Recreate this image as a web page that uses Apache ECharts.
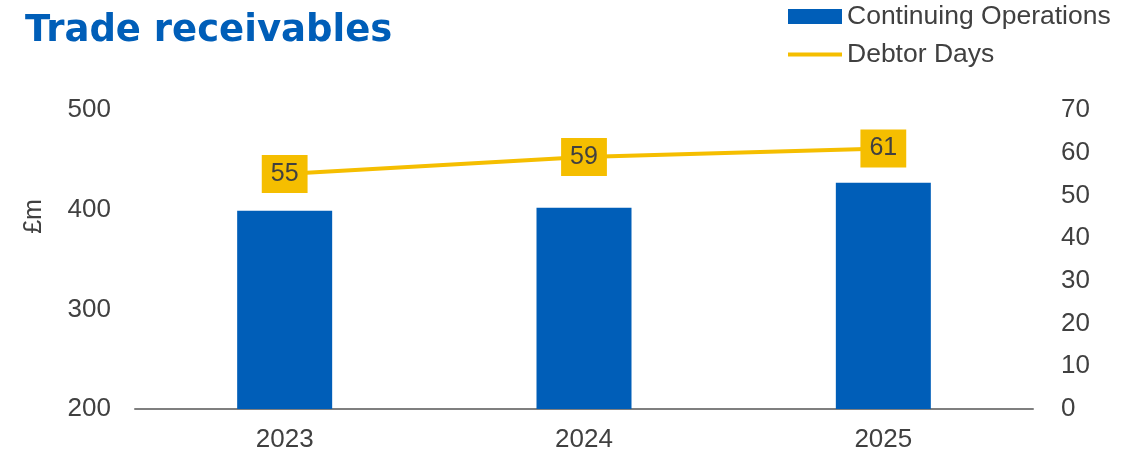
<!DOCTYPE html>
<html>
<head>
<meta charset="utf-8">
<script src="https://cdn.jsdelivr.net/npm/echarts@6/dist/echarts.min.js"></script>
<style>html,body{margin:0;padding:0;background:#fff}#c{width:1143px;height:458px}</style>
</head>
<body>
<div id="c"></div>
<script>
const categories = ['2023', '2024', '2025'];
const continuingOperations = [399, 402, 427];
const debtorDays = [55, 59, 61];
const leftTicks = [200, 300, 400, 500];
const rightTicks = [0, 10, 20, 30, 40, 50, 60, 70];

const FONT = '"Liberation Sans", Arial, sans-serif';
const TXT = '#404040';
const chart = echarts.init(document.getElementById('c'));
chart.setOption({
  animation: false,
  title: {
    text: 'Trade receivables', left: 20, top: 8,
    textStyle: { fontFamily: '"DejaVu Sans", sans-serif', fontWeight: 'bold', fontSize: 37, color: '#005EB8' }
  },
  legend: {
    orient: 'vertical', left: 786, top: 3, itemGap: 11, padding: 0,
    itemWidth: 54, itemHeight: 15,
    textStyle: { fontFamily: FONT, fontSize: 26.5, color: TXT },
    data: [
      { name: 'Continuing Operations', icon: 'rect' },
      { name: 'Debtor Days', lineStyle: { width: 4 } }
    ]
  },
  grid: { left: 135, right: 110, top: 110, bottom: 49 },
  xAxis: {
    type: 'category', data: categories,
    axisLine: { lineStyle: { color: '#7f7f7f', width: 2 } },
    axisTick: { show: false },
    axisLabel: { fontFamily: FONT, fontSize: 26, color: TXT, margin: 18 }
  },
  yAxis: [
    {
      type: 'value', min: leftTicks[0], max: leftTicks[leftTicks.length - 1], interval: 100,
      name: '£m', nameLocation: 'middle', nameRotate: 90, nameGap: 88,
      nameTextStyle: { fontFamily: FONT, fontSize: 25, color: TXT, padding: [0, 0, 0, 86] },
      axisLine: { show: false }, axisTick: { show: false }, splitLine: { show: false },
      axisLabel: { fontFamily: FONT, fontSize: 26, color: TXT, margin: 24 }
    },
    {
      type: 'value', min: rightTicks[0], max: rightTicks[rightTicks.length - 1], interval: 10,
      axisLine: { show: false }, axisTick: { show: false }, splitLine: { show: false },
      axisLabel: { fontFamily: FONT, fontSize: 26, color: TXT, margin: 28 }
    }
  ],
  series: [
    {
      name: 'Continuing Operations', type: 'bar', data: continuingOperations,
      barWidth: 95, itemStyle: { color: '#005EB8' }, z: 1
    },
    {
      name: 'Debtor Days', type: 'line', yAxisIndex: 1, data: debtorDays,
      symbol: 'circle', symbolSize: 1, showSymbol: true,
      lineStyle: { color: '#F5BE00', width: 4 }, itemStyle: { color: 'rgba(0,0,0,0)' },
      z: 3,
      label: {
        show: true, position: 'inside',
        fontFamily: FONT, fontSize: 25, color: TXT,
        backgroundColor: '#F5BE00', padding: [7, 9, 6, 9]
      }
    }
  ]
});
</script>
</body>
</html>
